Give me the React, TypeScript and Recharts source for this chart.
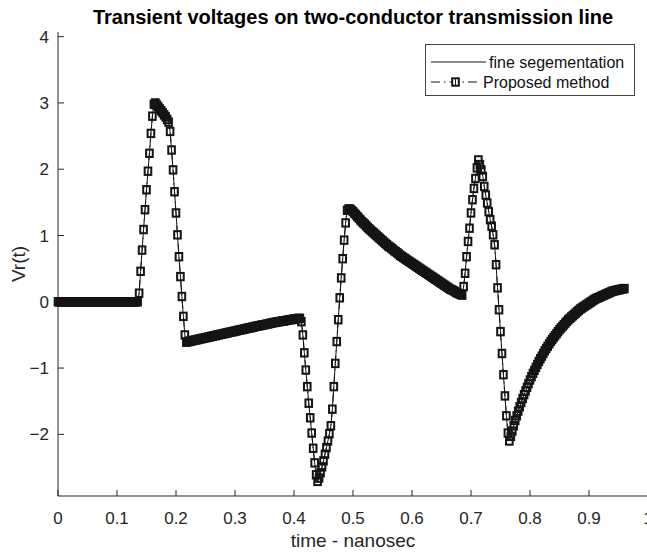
import React from 'react';
import { LineChart, Line, XAxis, YAxis, Legend, Label } from 'recharts';

// time axis (ns), sample step of the plotted solution
const timeNs = [
  0, 0.0025, 0.005, 0.0075, 0.01, 0.0125, 0.015, 0.0175, 0.02, 0.0225, 0.025, 0.0275, 0.03, 0.0325, 0.035, 0.0375, 0.04, 0.0425, 0.045, 0.0475,
  0.05, 0.0525, 0.055, 0.0575, 0.06, 0.0625, 0.065, 0.0675, 0.07, 0.0725, 0.075, 0.0775, 0.08, 0.0825, 0.085, 0.0875, 0.09, 0.0925, 0.095, 0.0975,
  0.1, 0.1025, 0.105, 0.1075, 0.11, 0.1125, 0.115, 0.1175, 0.12, 0.1225, 0.125, 0.1275, 0.13, 0.1325, 0.135, 0.1375, 0.14, 0.1425, 0.145, 0.1475,
  0.15, 0.1525, 0.155, 0.1575, 0.16, 0.1625, 0.165, 0.1675, 0.17, 0.1725, 0.175, 0.1775, 0.18, 0.1825, 0.185, 0.1875, 0.19, 0.1925, 0.195, 0.1975,
  0.2, 0.2025, 0.205, 0.2075, 0.21, 0.2125, 0.215, 0.2175, 0.22, 0.2225, 0.225, 0.2275, 0.23, 0.2325, 0.235, 0.2375, 0.24, 0.2425, 0.245, 0.2475,
  0.25, 0.2525, 0.255, 0.2575, 0.26, 0.2625, 0.265, 0.2675, 0.27, 0.2725, 0.275, 0.2775, 0.28, 0.2825, 0.285, 0.2875, 0.29, 0.2925, 0.295, 0.2975,
  0.3, 0.3025, 0.305, 0.3075, 0.31, 0.3125, 0.315, 0.3175, 0.32, 0.3225, 0.325, 0.3275, 0.33, 0.3325, 0.335, 0.3375, 0.34, 0.3425, 0.345, 0.3475,
  0.35, 0.3525, 0.355, 0.3575, 0.36, 0.3625, 0.365, 0.3675, 0.37, 0.3725, 0.375, 0.3775, 0.38, 0.3825, 0.385, 0.3875, 0.39, 0.3925, 0.395, 0.3975,
  0.4, 0.4025, 0.405, 0.4075, 0.41, 0.4125, 0.415, 0.4175, 0.42, 0.4225, 0.425, 0.4275, 0.43, 0.4325, 0.435, 0.4375, 0.44, 0.4425, 0.445, 0.4475,
  0.45, 0.4525, 0.455, 0.4575, 0.46, 0.4625, 0.465, 0.4675, 0.47, 0.4725, 0.475, 0.4775, 0.48, 0.4825, 0.485, 0.4875, 0.49, 0.4925, 0.495, 0.4975,
  0.5, 0.5025, 0.505, 0.5075, 0.51, 0.5125, 0.515, 0.5175, 0.52, 0.5225, 0.525, 0.5275, 0.53, 0.5325, 0.535, 0.5375, 0.54, 0.5425, 0.545, 0.5475,
  0.55, 0.5525, 0.555, 0.5575, 0.56, 0.5625, 0.565, 0.5675, 0.57, 0.5725, 0.575, 0.5775, 0.58, 0.5825, 0.585, 0.5875, 0.59, 0.5925, 0.595, 0.5975,
  0.6, 0.6025, 0.605, 0.6075, 0.61, 0.6125, 0.615, 0.6175, 0.62, 0.6225, 0.625, 0.6275, 0.63, 0.6325, 0.635, 0.6375, 0.64, 0.6425, 0.645, 0.6475,
  0.65, 0.6525, 0.655, 0.6575, 0.66, 0.6625, 0.665, 0.6675, 0.67, 0.6725, 0.675, 0.6775, 0.68, 0.6825, 0.685, 0.6875, 0.69, 0.6925, 0.695, 0.6975,
  0.7, 0.7025, 0.705, 0.7075, 0.71, 0.7125, 0.715, 0.7175, 0.72, 0.7225, 0.725, 0.7275, 0.73, 0.7325, 0.735, 0.7375, 0.74, 0.7425, 0.745, 0.7475,
  0.75, 0.7525, 0.755, 0.7575, 0.76, 0.7625, 0.765, 0.7675, 0.77, 0.7725, 0.775, 0.7775, 0.78, 0.7825, 0.785, 0.7875, 0.79, 0.7925, 0.795, 0.7975,
  0.8, 0.8025, 0.805, 0.8075, 0.81, 0.8125, 0.815, 0.8175, 0.82, 0.8225, 0.825, 0.8275, 0.83, 0.8325, 0.835, 0.8375, 0.84, 0.8425, 0.845, 0.8475,
  0.85, 0.8525, 0.855, 0.8575, 0.86, 0.8625, 0.865, 0.8675, 0.87, 0.8725, 0.875, 0.8775, 0.88, 0.8825, 0.885, 0.8875, 0.89, 0.8925, 0.895, 0.8975,
  0.9, 0.9025, 0.905, 0.9075, 0.91, 0.9125, 0.915, 0.9175, 0.92, 0.9225, 0.925, 0.9275, 0.93, 0.9325, 0.935, 0.9375, 0.94, 0.9425, 0.945, 0.9475,
  0.95, 0.9525, 0.955, 0.9575, 0.96,
];

// Vr(t), proposed method (one value per time sample)
const vrProposed = [
  0, 0, 0, 0, 0, 0, 0, 0, 0, 0, 0, 0, 0, 0, 0, 0, 0, 0, 0, 0,
  0, 0, 0, 0, 0, 0, 0, 0, 0, 0, 0, 0, 0, 0, 0, 0, 0, 0, 0, 0,
  0, 0, 0, 0, 0, 0, 0, 0, 0, 0, 0, 0, 0, 0, 0, 0.13, 0.46, 0.78, 1.09, 1.39,
  1.69, 1.97, 2.24, 2.54, 2.8, 2.98, 3.0, 2.97, 2.94, 2.91, 2.88, 2.85, 2.82, 2.79, 2.75, 2.71, 2.57, 2.29, 1.99, 1.66,
  1.34, 1.01, 0.68, 0.38, 0.08, -0.22, -0.5, -0.61, -0.6, -0.6, -0.59, -0.59, -0.58, -0.58, -0.57, -0.57, -0.56, -0.56, -0.55, -0.55,
  -0.54, -0.54, -0.53, -0.53, -0.52, -0.52, -0.51, -0.51, -0.5, -0.5, -0.49, -0.49, -0.48, -0.48, -0.47, -0.47, -0.46, -0.46, -0.45, -0.45,
  -0.44, -0.44, -0.43, -0.43, -0.42, -0.42, -0.41, -0.41, -0.4, -0.4, -0.39, -0.39, -0.38, -0.38, -0.37, -0.37, -0.36, -0.36, -0.35, -0.35,
  -0.345, -0.34, -0.335, -0.33, -0.325, -0.32, -0.315, -0.31, -0.31, -0.3, -0.3, -0.295, -0.29, -0.29, -0.285, -0.28, -0.275, -0.27, -0.27, -0.265,
  -0.26, -0.26, -0.255, -0.25, -0.25, -0.3, -0.5, -0.77, -1.03, -1.28, -1.53, -1.75, -1.98, -2.21, -2.43, -2.61, -2.71, -2.66, -2.58, -2.49,
  -2.4, -2.3, -2.2, -2.1, -1.99, -1.87, -1.62, -1.28, -0.93, -0.6, -0.27, 0.06, 0.36, 0.65, 0.93, 1.19, 1.38, 1.4, 1.4, 1.38,
  1.36, 1.335, 1.31, 1.285, 1.26, 1.235, 1.21, 1.19, 1.17, 1.145, 1.12, 1.1, 1.08, 1.06, 1.04, 1.02, 1.0, 0.98, 0.96, 0.94,
  0.92, 0.9, 0.88, 0.86, 0.84, 0.825, 0.81, 0.79, 0.77, 0.755, 0.74, 0.72, 0.7, 0.685, 0.67, 0.655, 0.64, 0.625, 0.61, 0.595,
  0.58, 0.565, 0.55, 0.535, 0.52, 0.505, 0.49, 0.475, 0.46, 0.445, 0.43, 0.415, 0.4, 0.385, 0.37, 0.355, 0.34, 0.325, 0.31, 0.295,
  0.28, 0.265, 0.25, 0.235, 0.22, 0.205, 0.19, 0.18, 0.17, 0.155, 0.14, 0.13, 0.12, 0.11, 0.1, 0.23, 0.43, 0.68, 0.91, 1.11,
  1.34, 1.54, 1.71, 1.86, 2.02, 2.14, 2.07, 1.99, 1.89, 1.74, 1.61, 1.49, 1.36, 1.24, 1.14, 1.01, 0.86, 0.56, 0.21, -0.12,
  -0.45, -0.78, -1.1, -1.42, -1.72, -1.98, -2.1, -2.03, -1.95, -1.87, -1.79, -1.72, -1.65, -1.585, -1.52, -1.46, -1.4, -1.345, -1.29, -1.235,
  -1.18, -1.13, -1.08, -1.035, -0.99, -0.945, -0.9, -0.86, -0.82, -0.78, -0.74, -0.705, -0.67, -0.635, -0.6, -0.57, -0.54, -0.51, -0.48, -0.45,
  -0.42, -0.395, -0.37, -0.345, -0.32, -0.295, -0.27, -0.25, -0.23, -0.21, -0.19, -0.17, -0.15, -0.13, -0.11, -0.095, -0.08, -0.065, -0.05, -0.035,
  -0.02, -0.005, 0.01, 0.025, 0.04, 0.05, 0.06, 0.07, 0.08, 0.09, 0.1, 0.11, 0.12, 0.13, 0.14, 0.15, 0.16, 0.165, 0.17, 0.175,
  0.18, 0.185, 0.19, 0.195, 0.2,
];

// Vr(t), fine segmentation (coincides with the proposed method)
const vrFine = vrProposed;

const xTicks = [0, 0.1, 0.2, 0.3, 0.4, 0.5, 0.6, 0.7, 0.8, 0.9, 1];
const yTicks = [-2, -1, 0, 1, 2, 3, 4];

const seriesNames = ['fine segementation', 'Proposed method'];
const titleText = 'Transient voltages on two-conductor transmission line';
const xLabelText = 'time - nanosec';
const yLabelText = 'Vr(t)';

const data = timeNs
  .slice(0, Math.min(timeNs.length, vrProposed.length))
  .map((t, i) => ({ t, fine: vrFine[i], proposed: vrProposed[i] }));

const FONT = '"Liberation Sans", Arial, Helvetica, sans-serif';
const AX = '#262626';
const INK = '#141414';

const fmtX = (v: number) => String(Number(v.toFixed(1)));
const fmtY = (v: number) => (v < 0 ? '\u2212' + Math.abs(v) : String(v));
const blank = () => '';

const MW = 6.6;
const MH = 7.4;
const MS = 2;

const SquareDot = (props: any) => {
  const { cx, cy, index } = props;
  if (cx == null || cy == null || isNaN(cx) || isNaN(cy)) return <g key={'d' + index} />;
  return (
    <rect
      key={'d' + index}
      x={cx - MW / 2}
      y={cy - MH / 2}
      width={MW}
      height={MH}
      fill="none"
      stroke={INK}
      strokeWidth={MS}
    />
  );
};

const LegendBox = () => (
  <svg width={211} height={53} style={{ display: 'block' }}>
    <rect x={0.5} y={0.5} width={209} height={51} fill="#fff" stroke="#444" strokeWidth={1} />
    <line x1={6} y1={18} x2={61} y2={18} stroke={INK} strokeWidth={1} />
    <text x={64} y={23.5} fontFamily={FONT} fontSize={16} fill="#111">{seriesNames[0]}</text>
    <line x1={6} y1={38} x2={54} y2={38} stroke={INK} strokeWidth={1.2} strokeDasharray="9 4 1.5 4" />
    <rect x={30.5 - MW / 2} y={38 - MH / 2} width={MW} height={MH} fill="#fff" stroke={INK} strokeWidth={MS} />
    <line x1={30.5} y1={34} x2={30.5} y2={42} stroke={INK} strokeWidth={1} />
    <text x={58} y={43.5} fontFamily={FONT} fontSize={16} fill="#111">{seriesNames[1]}</text>
  </svg>
);

export default function App() {
  return (
    <div
      style={{
        position: 'fixed',
        left: 0,
        top: 0,
        width: 647,
        height: 552,
        overflow: 'hidden',
        background: '#fff',
      }}
    >
      <div
        style={{
          position: 'absolute',
          left: 0,
          top: 6,
          width: 706,
          textAlign: 'center',
          fontFamily: FONT,
          fontWeight: 'bold',
          fontSize: 20,
          color: '#000',
          lineHeight: '22px',
        }}
      >
        {titleText}
      </div>
      <LineChart
        width={660}
        height={552}
        data={data}
        margin={{ top: 32, right: 12, bottom: 0, left: 0 }}
      >
        <XAxis
          xAxisId="b"
          dataKey="t"
          type="number"
          domain={[0, 1]}
          ticks={xTicks}
          tickFormatter={fmtX}
          height={56}
          tickSize={-6}
          tickMargin={22}
          axisLine={{ stroke: AX, strokeWidth: 1 }}
          tickLine={{ stroke: AX, strokeWidth: 1 }}
          tick={{ fill: AX, fontSize: 17, fontFamily: FONT }}
          interval={0}
          allowDecimals
        >
          <Label
            content={(p: any) => {
              const vb = p.viewBox || { x: 58, y: 496, width: 590, height: 56 };
              return (
                <text
                  x={vb.x + vb.width / 2}
                  y={547}
                  textAnchor="middle"
                  fontFamily={FONT}
                  fontSize={19}
                  fill={AX}
                >
                  {xLabelText}
                </text>
              );
            }}
          />
        </XAxis>
        <XAxis
          xAxisId="top"
          dataKey="t"
          type="number"
          orientation="top"
          domain={[0, 1]}
          ticks={xTicks}
          tickFormatter={blank}
          height={0}
          tickSize={-6}
          axisLine={{ stroke: AX, strokeWidth: 1 }}
          tickLine={{ stroke: AX, strokeWidth: 1 }}
          interval={0}
        />
        <YAxis
          yAxisId="l"
          type="number"
          domain={[-2.93, 4.07]}
          ticks={yTicks}
          tickFormatter={fmtY}
          width={58}
          tickSize={-6}
          tickMargin={15}
          axisLine={{ stroke: AX, strokeWidth: 1 }}
          tickLine={{ stroke: AX, strokeWidth: 1 }}
          tick={{ fill: AX, fontSize: 17, fontFamily: FONT }}
          interval={0}
          allowDataOverflow
        >
          <Label
            content={(p: any) => {
              const vb = p.viewBox || { x: 0, y: 32, width: 58, height: 464 };
              const cy = vb.y + vb.height / 2;
              return (
                <text
                  x={18}
                  y={cy}
                  dy="0.35em"
                  transform={`rotate(-90 18 ${cy})`}
                  textAnchor="middle"
                  fontFamily={FONT}
                  fontSize={19}
                  fill={AX}
                >
                  {yLabelText}
                </text>
              );
            }}
          />
        </YAxis>
        <YAxis
          yAxisId="r"
          type="number"
          orientation="right"
          domain={[-2.93, 4.07]}
          ticks={yTicks}
          tickFormatter={blank}
          width={0}
          tickSize={-6}
          axisLine={{ stroke: AX, strokeWidth: 1 }}
          tickLine={{ stroke: AX, strokeWidth: 1 }}
          interval={0}
          allowDataOverflow
        />
        <Legend
          layout="vertical"
          align="center"
          verticalAlign="middle"
          wrapperStyle={{ position: 'absolute', left: 425, top: 44, width: 211, height: 53 }}
          content={() => <LegendBox />}
        />
        <Line
          xAxisId="b"
          yAxisId="l"
          dataKey="fine"
          name={seriesNames[0]}
          stroke={INK}
          strokeWidth={1}
          dot={false}
          activeDot={false}
          isAnimationActive={false}
        />
        <Line
          xAxisId="b"
          yAxisId="l"
          dataKey="proposed"
          name={seriesNames[1]}
          stroke={INK}
          strokeWidth={1}
          strokeDasharray="9 4 1.5 4"
          dot={<SquareDot />}
          activeDot={false}
          isAnimationActive={false}
        />
      </LineChart>
    </div>
  );
}
